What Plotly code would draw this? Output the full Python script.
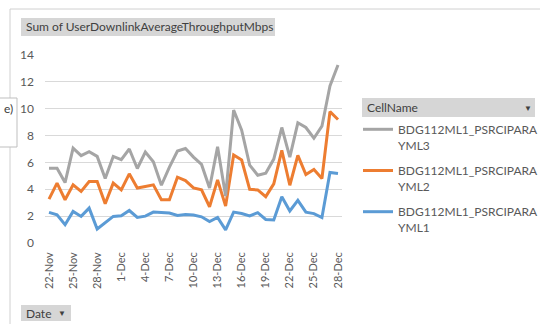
import pandas as pd
import plotly.graph_objects as go

# Daily dates on the category axis
dates = [d.strftime("%-d-%b") for d in pd.date_range("2023-11-22", "2023-12-28", freq="D")]
tick_labels = dates[::3]

cell_names = ["BDG112ML1_PSRCIPARAYML1", "BDG112ML1_PSRCIPARAYML2", "BDG112ML1_PSRCIPARAYML3"]

yml1 = [2.28, 2.10, 1.36, 2.35, 1.98, 2.60, 1.04, 1.49, 1.98, 2.03, 2.42, 1.90, 2.00,
        2.30, 2.25, 2.23, 2.05, 2.12, 2.08, 1.95, 1.60, 1.90, 0.98, 2.30, 2.20, 2.02,
        2.26, 1.75, 1.72, 3.45, 2.39, 3.18, 2.30, 2.19, 1.90, 5.25, 5.17]
yml2 = [3.27, 4.46, 3.22, 4.33, 3.84, 4.58, 4.58, 2.92, 4.46, 3.96, 5.15, 4.09, 4.21,
        4.33, 3.22, 3.22, 4.90, 4.65, 4.10, 3.96, 2.70, 4.70, 2.75, 6.55, 6.18, 4.00,
        3.95, 3.45, 4.40, 6.90, 4.30, 6.52, 5.10, 5.47, 4.80, 9.78, 9.20]
yml3 = [5.57, 5.57, 4.50, 7.06, 6.50, 6.80, 6.45, 4.80, 6.45, 6.20, 7.00, 5.55, 6.77,
        6.05, 4.30, 5.65, 6.85, 7.04, 6.40, 5.85, 4.10, 7.16, 3.50, 9.90, 8.40, 5.80,
        5.05, 5.20, 6.25, 8.60, 6.40, 8.95, 8.60, 7.80, 8.70, 11.70, 13.25]

series = [yml1, yml2, yml3]
colors = ["#5B9BD5", "#ED7D31", "#A5A5A5"]
legend_ranks = [3, 2, 1]

W, H = 540, 324
L, R, T, B = 45, 342, 55, 243  # plot area edges in pixels


def px(x):
    return (x - L) / (R - L)


def py(y):
    return (B - y) / (B - T)


fig = go.Figure()
for name, vals, col, rank in zip(cell_names, series, colors, legend_ranks):
    label = name[:19] + "<br>" + name[19:]
    fig.add_trace(go.Scatter(
        x=dates, y=vals, mode="lines", name=label, legendgroup=name, legendrank=rank,
        line=dict(color=col, width=3),
    ))

font = "Lato, 'Open Sans', sans-serif"
txt = "#595959"

shapes = [
    # outer frame edges
    dict(type="line", xref="paper", yref="paper", x0=px(10), x1=px(545), y0=py(9), y1=py(9),
         line=dict(color="#D0D0D0", width=1)),
    dict(type="line", xref="paper", yref="paper", x0=px(10), x1=px(10), y0=py(9), y1=py(330),
         line=dict(color="#D0D0D0", width=1)),
    # field buttons
    dict(type="rect", xref="paper", yref="paper", x0=px(21), x1=px(275), y0=py(18), y1=py(36),
         fillcolor="#D6D6D6", line=dict(width=0)),
    dict(type="rect", xref="paper", yref="paper", x0=px(362), x1=px(535), y0=py(98), y1=py(117),
         fillcolor="#D6D6D6", line=dict(width=0)),
    dict(type="rect", xref="paper", yref="paper", x0=px(21), x1=px(71), y0=py(305), y1=py(321),
         fillcolor="#D6D6D6", line=dict(width=0)),
    dict(type="rect", xref="paper", yref="paper", x0=px(-6), x1=px(17), y0=py(98), y1=py(147),
         fillcolor="white", line=dict(color="#BFBFBF", width=1)),
]

annotations = [
    dict(text="Sum of UserDownlinkAverageThroughputMbps", xref="paper", yref="paper",
         x=px(24), y=py(27), xanchor="left", yanchor="middle", showarrow=False,
         font=dict(family=font, size=12, color="#404040")),
    dict(text="CellName", xref="paper", yref="paper",
         x=px(365), y=py(107.5), xanchor="left", yanchor="middle", showarrow=False,
         font=dict(family=font, size=12, color="#404040")),
    dict(text="▼", xref="paper", yref="paper",
         x=px(528), y=py(107.5), xanchor="center", yanchor="middle", showarrow=False,
         font=dict(family=font, size=8, color="#404040")),
    dict(text="Date", xref="paper", yref="paper",
         x=px(24), y=py(313), xanchor="left", yanchor="middle", showarrow=False,
         font=dict(family=font, size=12, color="#404040")),
    dict(text="▼", xref="paper", yref="paper",
         x=px(62), y=py(313), xanchor="center", yanchor="middle", showarrow=False,
         font=dict(family=font, size=8, color="#404040")),
    dict(text="e)", xref="paper", yref="paper",
         x=px(15), y=py(108), xanchor="right", yanchor="middle", showarrow=False,
         font=dict(family=font, size=12, color="#404040")),
]

fig.update_layout(
    width=W, height=H,
    margin=dict(l=L, r=W - R, t=T, b=H - B, pad=0, autoexpand=False),
    paper_bgcolor="white", plot_bgcolor="white",
    font=dict(family=font, size=12, color=txt),
    showlegend=True,
    legend=dict(
        x=px(358), y=py(115), xanchor="left", yanchor="top",
        traceorder="grouped", tracegroupgap=7, valign="top",
        font=dict(family=font, size=12, color=txt),
        bgcolor="rgba(0,0,0,0)", borderwidth=0,
    ),
    shapes=shapes,
    annotations=annotations,
)

fig.update_xaxes(
    type="category", range=[-0.5, len(dates) - 0.5],
    tickmode="array", tickvals=tick_labels, ticktext=tick_labels,
    tickangle=-90, ticks="", showgrid=False, showline=False, zeroline=False,
    tickfont=dict(family=font, size=11, color=txt), ticklabelstandoff=6,
)
fig.update_yaxes(
    range=[0, 14], tickmode="linear", tick0=0, dtick=2,
    showgrid=True, gridcolor="#D9D9D9", gridwidth=1, zeroline=False, showline=False,
    ticks="", tickfont=dict(family=font, size=12, color=txt), ticklabelstandoff=10,
)

fig.write_html("out.html")
